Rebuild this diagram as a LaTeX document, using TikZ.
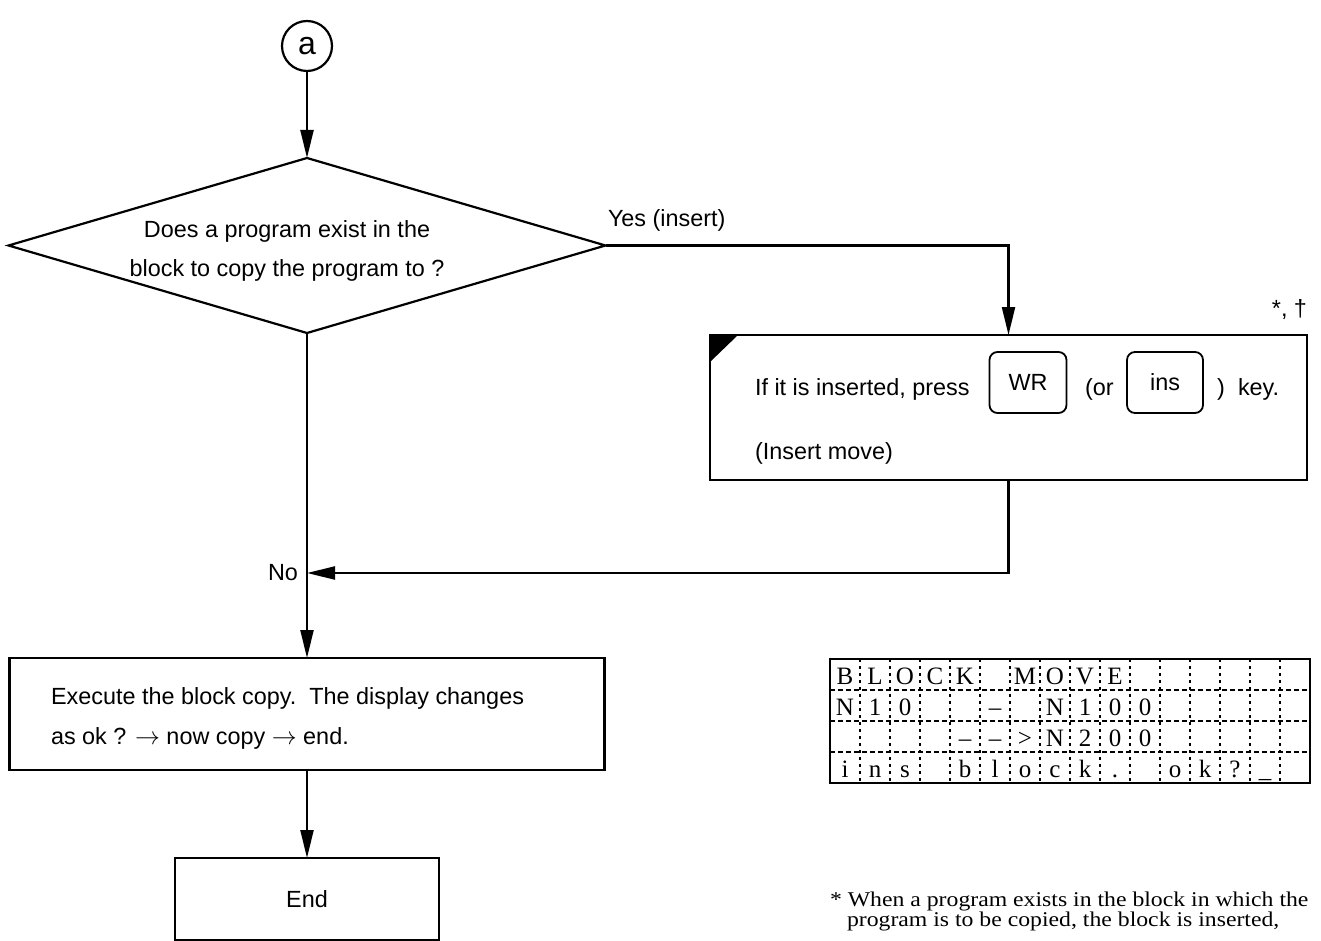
\documentclass[tikz,border=0pt]{standalone}
\usepackage{fontspec}
\setmainfont{Liberation Sans}
\newfontfamily\serifface{Liberation Serif}
\usetikzlibrary{arrows.meta,shapes.geometric}

\begin{document}
\begin{tikzpicture}[x=1pt,y=-1pt,
  every node/.style={inner sep=0pt, outer sep=0pt},
  flow/.style={line width=2.2pt, -{Triangle[length=28pt,width=13pt]}},
  box/.style={draw, line width=2.2pt, rectangle},
  keycap/.style={draw, line width=1.8pt, rounded corners=8pt, minimum width=77pt, minimum height=61pt, txt},
  txt/.style={font=\fontsize{23.4}{28}\selectfont},
  lcdch/.style={anchor=base, font=\serifface\fontsize{25}{25}\selectfont},
  grid h/.style={line width=1.3pt, dash pattern=on 5pt off 3pt},
  grid v/.style={line width=1.3pt, dash pattern=on 3pt off 4pt},
  note/.style={anchor=base west, font=\serifface\fontsize{21}{21}\selectfont}
]
\useasboundingbox (0,0) rectangle (1321,941);
\clip (0,0) rectangle (1321,941);

% connector "a"
\node[draw, circle, line width=2.2pt, minimum size=50pt, font=\fontsize{32}{32}\selectfont] (start) at (307,46) {a};

% decision
\node[draw, diamond, line width=2.2pt, aspect=3.41, minimum width=597pt, minimum height=175pt] (dec) at (307,245.5) {};
\node[align=center, font=\fontsize{23.4}{39}\selectfont] (dectext) at (287,251) {Does a program exist in the\\block to copy the program to ?};
\node[txt, anchor=base west] (yes) at (608,227) {Yes (insert)};

% insert step
\node[box, minimum width=597pt, minimum height=145pt] (insbox) at (1008.5,407.5) {};
\fill (insbox.north west) -- ++(28,0) -- ++(-28,27) -- cycle;
\node[txt, anchor=base east] (mark) at (1307,316) {*, †};
\node[txt, anchor=base west] (press) at (755,395) {If it is inserted, press};
\node[keycap] (wr) at (1028,382.5) {WR};
\node[txt, anchor=base west] (orword) at (1085,395) {(or};
\node[keycap, minimum width=76pt] (inskey) at (1165,382.5) {ins};
\node[txt, anchor=base west] (close) at (1217,395) {)};
\node[txt, anchor=base west] (keyword) at (1238,395) {key.};
\node[txt, anchor=base west] (move) at (755,459) {(Insert move)};

% execute step
\node[box, minimum width=595pt, minimum height=112pt] (exec) at (307,714) {};
\node[txt, anchor=base west] (exec1) at (51,704) {Execute the block copy.\ \ The display changes};
\node[txt, anchor=base west] (exec2) at (51,744) {as ok ? $\rightarrow$ now copy $\rightarrow$ end.};

% end
\node[box, txt, minimum width=264pt, minimum height=82pt] (end) at (307,899) {End};

% connectors
\coordinate (join) at (307,573);
\draw[flow] (start) -- (dec.north);
\draw[flow] (dec.east) -| (insbox.north);
\draw[flow] (insbox.south) |- (join);
\node[txt, anchor=east] (no) at (298,573) {No};
\draw[flow] (dec.south) -- (exec.north);
\draw[flow] (exec.south) -- (end.north);

% LCD display: 16 columns x 4 rows
\draw[line width=1.8pt] (830,659) rectangle (1310,783);
\foreach \y in {690,721,752} \draw[grid h] (830,\y) -- (1310,\y);
\foreach \k in {1,...,15} \draw[grid v] ({830+30*\k},659) -- ({830+30*\k},783);
\foreach \c [count=\i] in {B,L,O,C,K,{},M,O,V,E}
  \node[lcdch] at ({815+30*\i},684) {\c};
\foreach \c [count=\i] in {N,1,0,{},{},–,{},N,1,0,0}
  \node[lcdch] at ({815+30*\i},715) {\c};
\foreach \c [count=\i] in {{},{},{},{},–,–,>,N,2,0,0}
  \node[lcdch] at ({815+30*\i},746) {\c};
\foreach \c [count=\i] in {i,n,s,{},b,l,o,c,k,.,{},o,k,?,\_}
  \node[lcdch] at ({815+30*\i},777) {\c};

% footnote
\node[note] (note1) at (830,906) {\scalebox{1.13}[1]{* When a program exists in the block in which the}};
\node[note] (note2) at (847,926) {\scalebox{1.13}[1]{program is to be copied, the block is inserted,}};
\end{tikzpicture}
\end{document}
